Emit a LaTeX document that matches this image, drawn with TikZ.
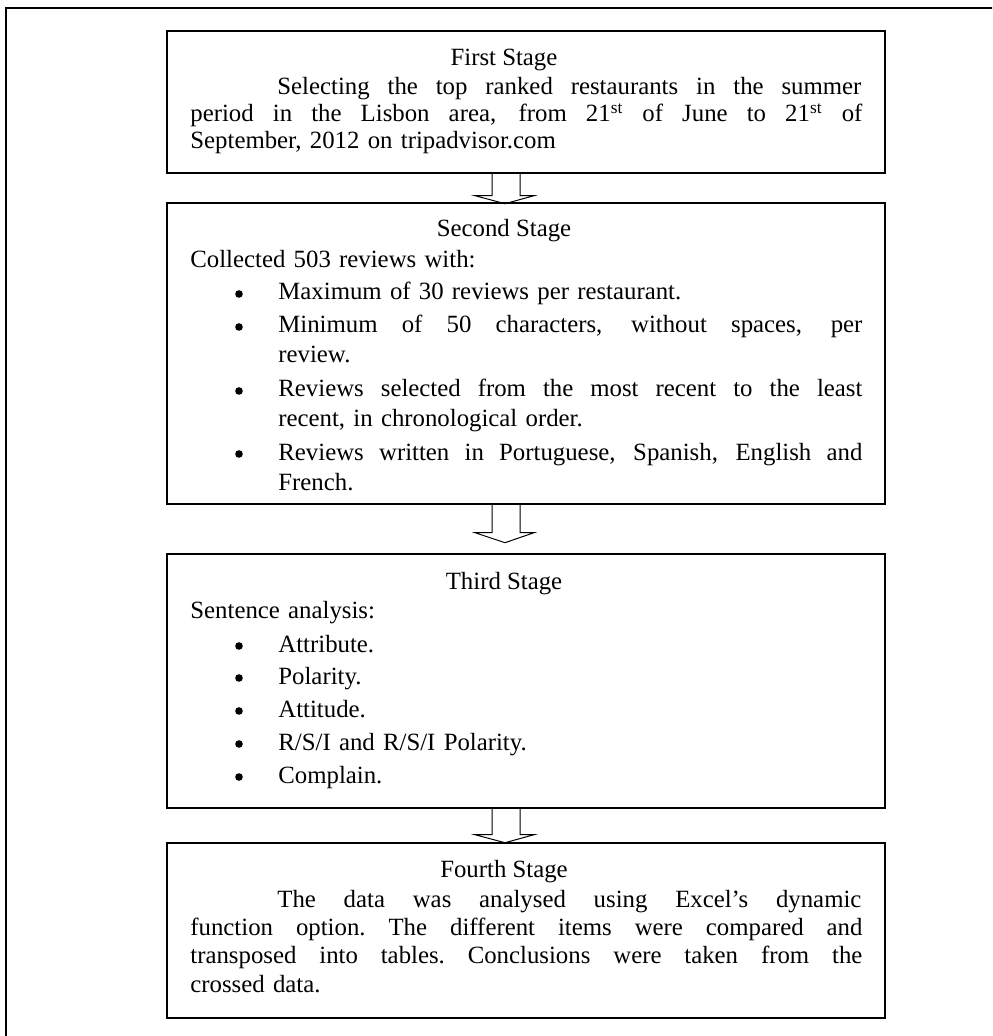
\documentclass[tikz,border=0pt]{standalone}
\usepackage{fontspec}
\setmainfont{Liberation Serif}
\usetikzlibrary{calc}
\newcommand{\jline}[2]{\leavevmode{\spaceskip=3pt plus 1fil\relax\xspaceskip=3pt plus 1fil\relax\hbox to #1{#2}}}
\begin{document}
\begin{tikzpicture}[x=0.5pt,y=-0.5pt,
  frame/.style={draw, line width=0.6pt},
  box/.style={draw, line width=0.7pt, minimum width=359pt, inner sep=0pt},
  title/.style={font=\fontsize{12.4}{13.5}\selectfont, inner sep=0pt, anchor=base},
  body/.style={font=\fontsize{12.4}{13.5}\selectfont, inner sep=0pt, anchor=base west, align=left, text width=336pt},
  bodyb/.style={font=\fontsize{12.4}{14.2}\selectfont, inner sep=0pt, anchor=base west, align=left, text width=336pt},
  dot/.style={circle, fill, inner sep=0pt, minimum size=3.8pt},
  itm/.style={font=\fontsize{12.4}{15}\selectfont, inner sep=0pt, anchor=base west, align=left, text width=292pt},
  arr/.style={draw, line width=0.5pt, line join=miter}
]
\useasboundingbox (0,0) rectangle (992,1036);
\clip (0,0) rectangle (992,1036);
\draw[frame] (6,8) rectangle (1010,1060);

% boxes
\node[box, minimum height=71pt] (b1) at (526,102) {};
\node[box, minimum height=150.5pt] (b2) at (526,353.5) {};
\node[box, minimum height=127pt] (b3) at (526,681) {};
\node[box, minimum height=87.5pt] (b4) at (526,930.5) {};

% block arrows
\draw[arr] ($(b1.south)+(-34,0)$) -- ++(0,22) -- ++(-17,0) -- ++(30,8) coordinate (t1) -- ++(29,-8) -- ++(-14,0) -- ++(0,-22);
\draw[arr] ($(b2.south)+(-34,0)$) -- ++(0,28) -- ++(-17,0) -- ++(30,10) coordinate (t2) -- ++(29,-10) -- ++(-14,0) -- ++(0,-28);
\draw[arr] ($(b3.south)+(-34,0)$) -- ++(0,26) -- ++(-17,0) -- ++(30,8) coordinate (t3) -- ++(29,-8) -- ++(-14,0) -- ++(0,-26);

% First stage
\node[title] (h1) at (504,66) {First Stage};
\node[body] (p1) at (190,95) {\hspace*{43.5pt}\jline{292pt}{Selecting the top ranked restaurants in the summer}\\
\jline{336pt}{period in the Lisbon area, from 21\textsuperscript{st} of June to 21\textsuperscript{st} of}\\
September, 2012 on tripadvisor.com};

% Second stage
\node[title] (h2) at (504,237) {Second Stage};
\node[body] (p2) at (190,268) {Collected 503 reviews with:};
\node[dot] (d21) at (239,294) {};
\node[itm] (i21) at (278,300) {Maximum of 30 reviews per restaurant.};
\node[dot] (d22) at (239,327) {};
\node[itm] (i22) at (278,333) {\jline{292pt}{Minimum of 50 characters, without spaces, per}\\ review.};
\node[dot] (d23) at (239,391) {};
\node[itm] (i23) at (278,397) {\jline{292pt}{Reviews selected from the most recent to the least}\\ recent, in chronological order.};
\node[dot] (d24) at (239,454) {};
\node[itm] (i24) at (278,460) {\jline{292pt}{Reviews written in Portuguese, Spanish, English and}\\ French.};

% Third stage
\node[title] (h3) at (504,589) {Third Stage};
\node[body] (p3) at (190,618) {Sentence analysis:};
\node[dot] (d31) at (239,646) {};
\node[itm] (i31) at (278,652) {Attribute.};
\node[dot] (d32) at (239,678) {};
\node[itm] (i32) at (278,684) {Polarity.};
\node[dot] (d33) at (239,711) {};
\node[itm] (i33) at (278,717) {Attitude.};
\node[dot] (d34) at (239,744) {};
\node[itm] (i34) at (278,750) {R/S/I and R/S/I Polarity.};
\node[dot] (d35) at (239,777) {};
\node[itm] (i35) at (278,783) {Complain.};

% Fourth stage
\node[title] (h4) at (504,877) {Fourth Stage};
\node[bodyb] (p4) at (190,907) {\hspace*{43.5pt}\jline{292pt}{The data was analysed using Excel’s dynamic}\\
\jline{336pt}{function option. The different items were compared and}\\
\jline{336pt}{transposed into tables. Conclusions were taken from the}\\
crossed data.};
\end{tikzpicture}
\end{document}
